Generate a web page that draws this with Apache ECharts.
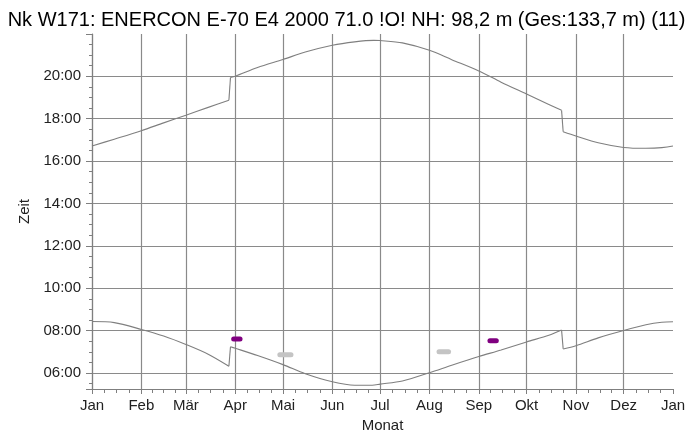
<!DOCTYPE html>
<html>
<head>
<meta charset="utf-8">
<script src="https://cdn.jsdelivr.net/npm/echarts@6/dist/echarts.min.js"></script>
<style>
  html, body { margin: 0; padding: 0; background: #fff; }
  #chart { width: 693px; height: 432px; }
</style>
</head>
<body>
<div id="chart"></div>
<script>
// Schattenkalender: Sonnenaufgang / Sonnenuntergang und Schattenwurfzeiten
const titleText = 'Nk W171: ENERCON E-70 E4 2000 71.0 !O! NH: 98,2 m (Ges:133,7 m) (11)';
const monthNames = ['Jan', 'Feb', 'Mär', 'Apr', 'Mai', 'Jun', 'Jul', 'Aug', 'Sep', 'Okt', 'Nov', 'Dez'];

// day of year (0 = 1. Januar) and clock time in hours
const sunsetDays  = [0, 14, 31, 45, 59, 73, 86, 87, 90, 104, 120, 134, 151, 165, 177, 181, 195, 212, 226, 243, 257, 273, 287, 295, 296, 304, 318, 334, 348, 358, 365];
const sunsetHours = [16.71, 17.03, 17.43, 17.80, 18.16, 18.53, 18.87, 19.94, 20.00, 20.41, 20.79, 21.14, 21.46, 21.62, 21.69, 21.68, 21.57, 21.22, 20.78, 20.25, 19.72, 19.16, 18.67, 18.39, 17.38, 17.18, 16.86, 16.64, 16.60, 16.63, 16.71];

const sunriseDays  = [0, 14, 31, 45, 59, 73, 86, 87, 90, 104, 120, 134, 151, 165, 176, 181, 195, 212, 226, 243, 257, 273, 287, 295, 296, 304, 318, 334, 348, 358, 365];
const sunriseHours = [8.43, 8.38, 8.06, 7.75, 7.35, 6.89, 6.32, 7.24, 7.17, 6.83, 6.40, 5.97, 5.59, 5.43, 5.43, 5.48, 5.63, 6.02, 6.37, 6.78, 7.09, 7.47, 7.78, 8.03, 7.14, 7.29, 7.66, 8.01, 8.28, 8.40, 8.42];

// shadow periods: first day, last day, clock time, colour group
const shadowStart = [89, 118, 218, 250];
const shadowEnd   = [93, 125, 224, 254];
const shadowHour  = [7.61, 6.86, 7.01, 7.52];
const shadowKind  = ['lila', 'grau', 'grau', 'lila'];

const YEAR_START = Date.UTC(2023, 0, 1);
const YEAR_END = Date.UTC(2024, 0, 1);
const DAY = 86400000;
const toTime = d => YEAR_START + d * DAY;
const pad = n => (n < 10 ? '0' : '') + n;
const fmtHour = v => {
  let h = Math.floor(v + 1e-9);
  let m = Math.round((v - h) * 60);
  if (m === 60) { h += 1; m = 0; }
  return pad(h) + ':' + pad(m);
};

const lineColor = '#7f7f7f';
const gridColor = '#8a8a8a';
const font = 'Liberation Sans, Arial, sans-serif';

// split a curve at the daylight-saving jumps: smooth pieces plus straight jump segments
function curveSeries(days, hours, name) {
  const out = [];
  let piece = [];
  for (let i = 0; i < days.length; i++) {
    piece.push([toTime(days[i]), hours[i]]);
    const isJump = i + 1 < days.length && days[i + 1] - days[i] === 1;
    if (isJump || i === days.length - 1) {
      out.push({
        type: 'line', name: name, symbol: 'none', silent: true, smooth: 0.3,
        lineStyle: { color: lineColor, width: 1.1 }, data: piece
      });
      if (isJump) {
        out.push({
          type: 'line', name: name, symbol: 'none', silent: true,
          lineStyle: { color: lineColor, width: 1.1 },
          data: [[toTime(days[i]), hours[i]], [toTime(days[i + 1]), hours[i + 1]]]
        });
      }
      piece = [];
    }
  }
  return out;
}

const series = [].concat(
  curveSeries(sunsetDays, sunsetHours, 'Sonnenuntergang'),
  curveSeries(sunriseDays, sunriseHours, 'Sonnenaufgang')
);
shadowStart.forEach((s, i) => {
  series.push({
    type: 'line', symbol: 'none', silent: true, z: 5,
    lineStyle: { color: shadowKind[i] === 'lila' ? '#800080' : '#c4c4c4', width: 5, cap: 'round' },
    data: [[toTime(s), shadowHour[i]], [toTime(shadowEnd[i]), shadowHour[i]]]
  });
});

const chart = echarts.init(document.getElementById('chart'), null, { renderer: 'canvas' });
chart.setOption({
  useUTC: true,
  animation: false,
  backgroundColor: '#fff',
  title: {
    text: titleText, left: 'center', top: 5,
    textStyle: { fontFamily: font, fontSize: 20, fontWeight: 'normal', color: '#000' }
  },
  grid: { left: 92, right: 20, top: 34, bottom: 43, containLabel: false, outerBoundsMode: 'none' },
  xAxis: {
    type: 'time', min: YEAR_START, max: YEAR_END, splitNumber: 12,
    name: 'Monat', nameLocation: 'middle', nameGap: 29,
    nameTextStyle: { fontFamily: font, fontSize: 15, color: '#222' },
    axisLine: { lineStyle: { color: lineColor, width: 1 } },
    axisTick: { show: true, length: 5, lineStyle: { color: lineColor } },
    minorTick: { show: true, splitNumber: 4, length: 4, lineStyle: { color: lineColor } },
    axisLabel: {
      fontFamily: font, fontSize: 15, color: '#222', margin: 9,
      showMinLabel: true, showMaxLabel: true,
      formatter: v => monthNames[new Date(v).getUTCMonth()]
    },
    splitLine: { show: true, showMaxLine: false, lineStyle: { color: gridColor, width: 1.2 } }
  },
  yAxis: {
    type: 'value', min: 5.25, max: 21.99, minInterval: 2, maxInterval: 2,
    name: 'Zeit', nameLocation: 'middle', nameGap: 58, nameRotate: 90,
    nameTextStyle: { fontFamily: font, fontSize: 15, color: '#222' },
    axisLine: { show: true, lineStyle: { color: lineColor, width: 1 } },
    axisTick: { show: true, length: 6, lineStyle: { color: lineColor } },
    minorTick: { show: true, splitNumber: 4, length: 3, lineStyle: { color: lineColor } },
    axisLabel: {
      fontFamily: font, fontSize: 15, color: '#222', margin: 11,
      showMinLabel: false, showMaxLabel: false,
      formatter: fmtHour
    },
    splitLine: { show: true, showMaxLine: false, lineStyle: { color: gridColor, width: 1.2 } }
  },
  series: series
});
</script>
</body>
</html>
